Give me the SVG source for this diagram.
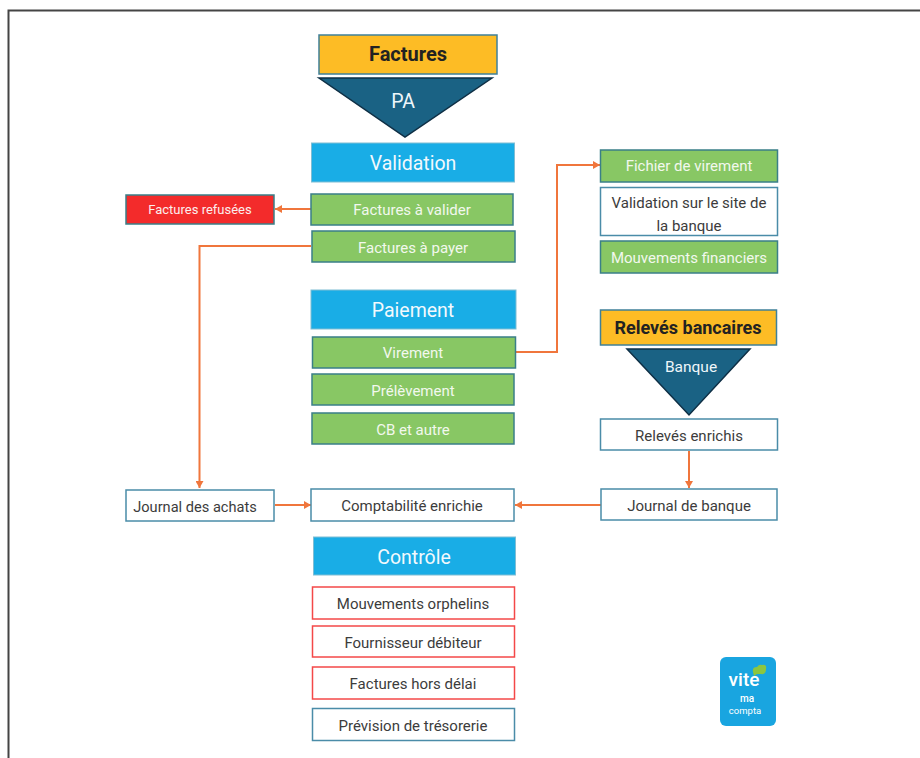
<svg xmlns="http://www.w3.org/2000/svg" width="920" height="758" viewBox="0 0 920 758">
<style>
text{font-family:Roboto,"Liberation Sans",sans-serif;text-anchor:middle;font-size:15px;fill:#3c3c3c}
.w{fill:#f2f8ee}
.b{font-weight:700;fill:#222;font-size:18px}
.h{font-size:19.500px;fill:#f2f9fd}
.g{fill:#88c764;stroke:#3a7f88;stroke-width:1.5}
.c{fill:#19ade6;stroke:#7fbdd4;stroke-width:1}
.y{fill:#fdbc25;stroke:#3f8099;stroke-width:1.5}
.n{fill:#fff;stroke:#4a8ca8;stroke-width:1.5}
.r{fill:#fff;stroke:#f44848;stroke-width:1.5}
.t{fill:#1a6284;stroke:#0e2f45;stroke-width:1.5}
.l{fill:none;stroke:#f0763c;stroke-width:2}
</style>
<defs><marker id="a" markerUnits="userSpaceOnUse" markerWidth="8" markerHeight="8" refX="7" refY="4" orient="auto"><path d="M0,0L7,4L0,8Z" fill="#f0763c"/></marker></defs>
<rect width="920" height="758" fill="#fff"/>
<path d="M8.500,758V10.500H920" fill="none" stroke="#444" stroke-width="2"/>
<g id="connectors">
<path class="l" marker-end="url(#a)" d="M311,209H275"/>
<path class="l" marker-end="url(#a)" d="M311,246H199.500V488"/>
<path class="l" marker-end="url(#a)" d="M516,352H557V165H600"/>
<path class="l" marker-end="url(#a)" d="M689,451V488"/>
<path class="l" marker-end="url(#a)" d="M275,505H311"/>
<path class="l" marker-end="url(#a)" d="M601,505H515"/>
</g>
<g id="factures"><rect class="y" x="319" y="35" width="178" height="39"/><text class="b" x="408" y="61" style="font-size:20px">Factures</text></g>
<g id="pa"><path class="t" d="M319,78H492L405,137Z"/><text x="403" y="108" style="font-size:19.500px;fill:#eef6fa">PA</text></g>
<g id="validation"><rect class="c" x="311.500" y="143" width="203" height="39"/><text class="h" x="413" y="170">Validation</text></g>
<g id="factures-a-valider"><rect class="g" x="311" y="194" width="202" height="31"/><text class="w" x="412" y="214.500">Factures à valider</text></g>
<g id="factures-a-payer"><rect class="g" x="312" y="231" width="203" height="31"/><text class="w" x="413" y="252.500">Factures à payer</text></g>
<g id="factures-refusees"><rect x="126" y="195" width="148" height="29" fill="#f32b2b" stroke="#3a7f88" stroke-width="1.500"/><text x="200" y="214" style="font-size:13px;fill:#fbeeee">Factures refusées</text></g>
<g id="paiement"><rect class="c" x="311" y="290" width="205" height="39"/><text class="h" x="413" y="317">Paiement</text></g>
<g id="virement"><rect class="g" x="312.500" y="337" width="203" height="31"/><text class="w" x="413" y="357.500">Virement</text></g>
<g id="prelevement"><rect class="g" x="312" y="374" width="202" height="31"/><text class="w" x="413" y="395.500">Prélèvement</text></g>
<g id="cb"><rect class="g" x="312" y="413" width="202" height="31"/><text class="w" x="413" y="434.500">CB et autre</text></g>
<g id="fichier"><rect class="g" x="600.500" y="150" width="177" height="32"/><text class="w" x="689" y="170.500">Fichier de virement</text></g>
<g id="validation-banque"><rect class="n" x="600.500" y="187.500" width="177" height="48"/><text x="689" y="208">Validation sur le site de</text><text x="689" y="230.500">la banque</text></g>
<g id="mouvements"><rect class="g" x="600.500" y="241" width="177" height="32"/><text class="w" x="689" y="262.500">Mouvements financiers</text></g>
<g id="releves"><rect class="y" x="600.500" y="310" width="176" height="35"/><text class="b" x="688" y="334">Relevés bancaires</text></g>
<g id="banque"><path class="t" d="M627,349H750L689,415Z"/><text x="691" y="372" style="font-size:15.500px;fill:#eef6fa">Banque</text></g>
<g id="releves-enrichis"><rect class="n" x="600.500" y="419" width="177" height="31"/><text x="689" y="440.500">Relevés enrichis</text></g>
<g id="journal-banque"><rect class="n" x="601" y="489" width="176" height="31"/><text x="689" y="510.500">Journal de banque</text></g>
<g id="journal-achats"><rect class="n" x="126" y="490" width="148" height="31"/><text x="195" y="511.500" style="font-size:14.600px">Journal des achats</text></g>
<g id="comptabilite"><rect class="n" x="311" y="489" width="203" height="32"/><text x="412" y="510.500">Comptabilité enrichie</text></g>
<g id="controle"><rect class="c" x="313.500" y="537" width="202" height="38"/><text class="h" x="414" y="564">Contrôle</text></g>
<g id="orphelins"><rect class="r" x="312.500" y="587" width="202" height="32"/><text x="413" y="608.500">Mouvements orphelins</text></g>
<g id="debiteur"><rect class="r" x="312.500" y="626" width="202" height="31"/><text x="413" y="647.500">Fournisseur débiteur</text></g>
<g id="hors-delai"><rect class="r" x="312.500" y="667" width="202" height="32"/><text x="413" y="688.500">Factures hors délai</text></g>
<g id="prevision"><rect class="n" x="312.500" y="708.500" width="202" height="32"/><text x="413" y="730.500">Prévision de trésorerie</text></g>
<g id="logo"><rect x="720" y="657" width="56" height="69" rx="6" fill="#19a5e0"/>
<path d="M753,672q-1,-5 4,-5q2,-3 5,-2q5,-1 4,4q0,6 -5,5h-4l-3,2Z" fill="#8cc63f"/>
<text x="744" y="686" style="font-size:19px;font-weight:500;fill:#fff">vite</text>
<text x="747" y="701.500" style="font-size:10px;font-weight:500;fill:#fff">ma</text>
<text x="745" y="713.500" style="font-size:9.500px;fill:#fff">compta</text></g>
</svg>
